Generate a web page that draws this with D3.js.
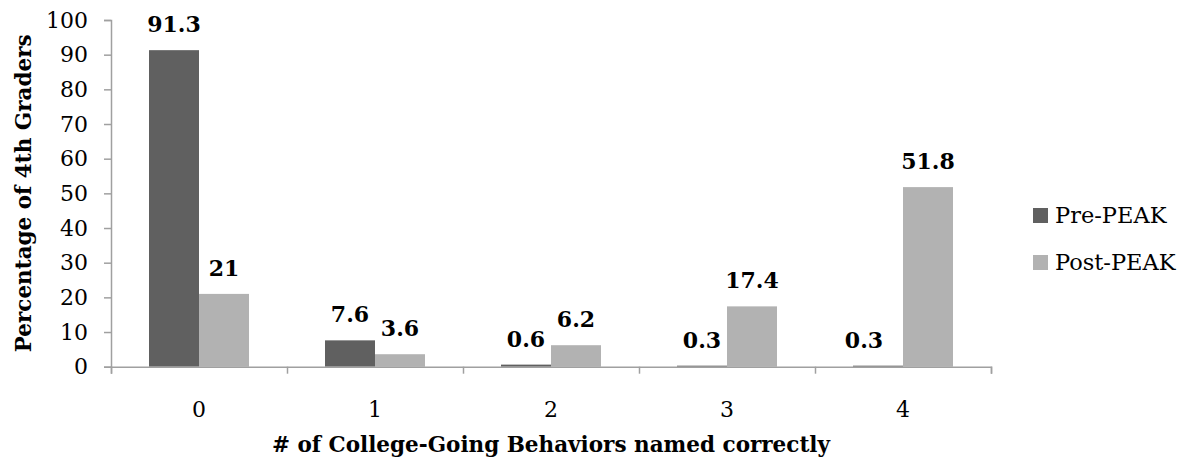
<!DOCTYPE html>
<html>
<head>
<meta charset="utf-8">
<script src="https://cdn.jsdelivr.net/npm/d3@7/dist/d3.min.js"></script>
<style>
  html, body { margin: 0; padding: 0; background: #fff; }
  svg { display: block; }
  text { font-family: "DejaVu Serif", "Liberation Serif", serif; fill: #000; }
</style>
</head>
<body>
<svg id="chart" width="1187" height="460"></svg>
<script>
const categories = ["0", "1", "2", "3", "4"];
const seriesNames = ["Pre-PEAK", "Post-PEAK"];
const preValues = [91.3, 7.6, 0.6, 0.3, 0.3];
const postValues = [21, 3.6, 6.2, 17.4, 51.8];
const yTicks = [0, 10, 20, 30, 40, 50, 60, 70, 80, 90, 100];
const xTitle = "# of College-Going Behaviors named correctly";
const yTitle = "Percentage of 4th Graders";

(function () {
const colors = { "Pre-PEAK": "#606060", "Post-PEAK": "#b2b2b2" };
const axisColor = "#a0a0a0";

const svg = d3.select("#chart");
const pLeft = 111, pRight = 991, pTop = 20, pBottom = 366.7;

const x0 = d3.scaleBand().domain(categories).range([pLeft, pRight]).padding(0);
const x1 = d3.scaleBand().domain(seriesNames).range([0, x0.bandwidth()])
  .paddingInner(0).paddingOuter(0.76);
const y = d3.scaleLinear().domain([0, 100]).range([pBottom, pTop]);

const data = categories.map((c, i) => ({
  cat: c,
  vals: [
    { s: "Pre-PEAK", v: preValues[i] },
    { s: "Post-PEAK", v: postValues[i] }
  ]
}));

// bars
const groups = svg.append("g").selectAll("g").data(data).join("g")
  .attr("transform", d => `translate(${x0(d.cat)},0)`);
groups.selectAll("rect").data(d => d.vals).join("rect")
  .attr("x", d => x1(d.s))
  .attr("width", x1.bandwidth())
  .attr("y", d => y(d.v))
  .attr("height", d => pBottom - y(d.v))
  .attr("fill", d => colors[d.s]);

// y axis
const yAxis = d3.axisLeft(y).tickValues(yTicks).tickSize(7).tickPadding(16)
  .tickFormat(d3.format("d"));
const gy = svg.append("g").attr("transform", `translate(${pLeft},0)`).call(yAxis);
gy.select(".domain").attr("stroke", axisColor).attr("stroke-width", 1.5);
gy.selectAll(".tick line").attr("stroke", axisColor).attr("stroke-width", 1.5);
gy.selectAll(".tick text").style("font-family", "DejaVu Serif").style("font-size", "22px").attr("fill", "#000");

// x axis (ticks at category boundaries)
const boundary = d3.scaleLinear().domain([0, categories.length]).range([pLeft, pRight]);
const gx = svg.append("g").attr("transform", `translate(0,${pBottom})`)
  .call(d3.axisBottom(boundary).ticks(categories.length).tickSize(7).tickFormat(""));
gx.select(".domain").attr("stroke", axisColor).attr("stroke-width", 1.5);
gx.selectAll(".tick line").attr("stroke", axisColor).attr("stroke-width", 1.5);

svg.append("g").selectAll("text").data(categories).join("text")
  .attr("x", d => x0(d) + x0.bandwidth() / 2)
  .attr("y", 417)
  .attr("text-anchor", "middle")
  .style("font-size", "22px")
  .text(d => d);

// value labels
const nudge = d => (d.cat === "4" && d.s === "Pre-PEAK") ? -14 : 0;
const labelData = [];
data.forEach(g => g.vals.forEach(v => labelData.push({ cat: g.cat, s: v.s, v: v.v })));
svg.append("g").selectAll("text").data(labelData).join("text")
  .attr("x", d => x0(d.cat) + x1(d.s) + x1.bandwidth() / 2 + nudge(d))
  .attr("y", d => y(d.v) - 18)
  .attr("text-anchor", "middle")
  .style("font-size", "22px")
  .style("font-weight", "bold")
  .text(d => String(d.v));

// axis titles
svg.append("text")
  .attr("x", (pLeft + pRight) / 2)
  .attr("y", 452)
  .attr("text-anchor", "middle")
  .style("font-size", "21.5px")
  .style("font-weight", "bold")
  .text(xTitle);

svg.append("text")
  .attr("transform", `translate(31,${(pTop + pBottom) / 2}) rotate(-90)`)
  .attr("text-anchor", "middle")
  .style("font-size", "21.5px")
  .style("font-weight", "bold")
  .text(yTitle);

// legend
const legend = svg.append("g").selectAll("g").data(seriesNames).join("g")
  .attr("transform", (d, i) => `translate(1033,${208 + i * 47})`);
legend.append("rect").attr("width", 15).attr("height", 15).attr("fill", d => colors[d]);
legend.append("text").attr("x", 22).attr("y", 15)
  .style("font-size", "22.5px")
  .text(d => d);
})();
</script>
</body>
</html>
